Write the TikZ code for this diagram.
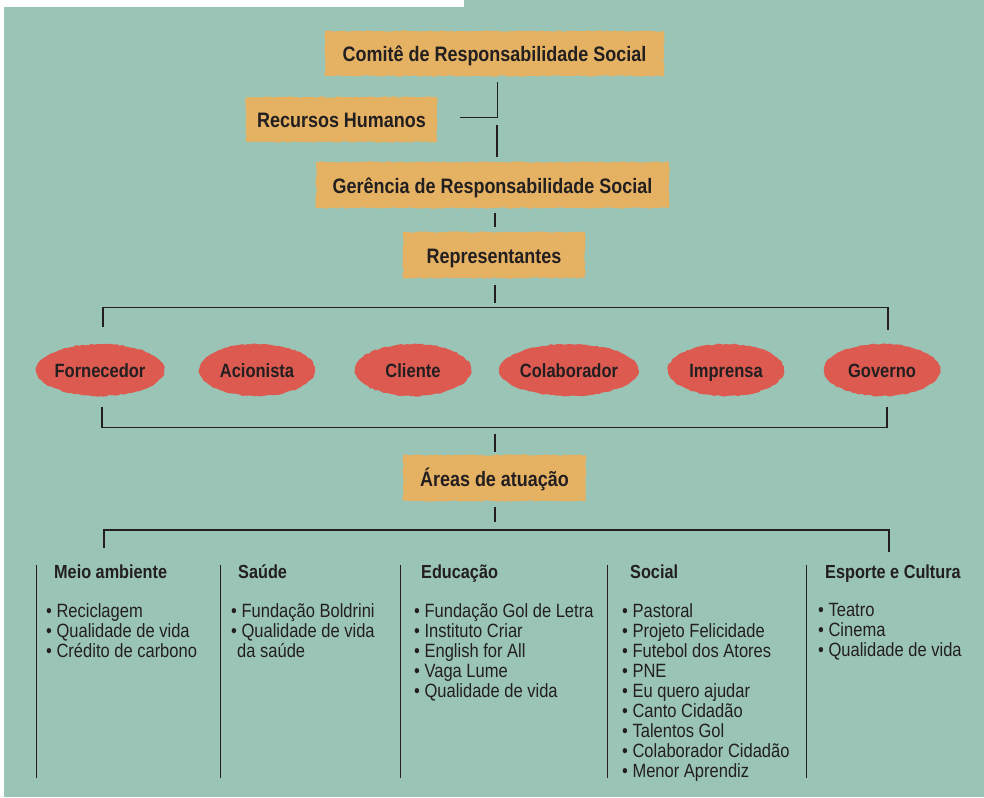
\documentclass[tikz,border=0pt]{standalone}
\usepackage{fontspec}
\setmainfont[FakeStretch=0.86]{Liberation Sans}
\usetikzlibrary{shapes.geometric,decorations.pathmorphing}
\definecolor{bgteal}{HTML}{9AC4B5}
\definecolor{boxor}{HTML}{E5B263}
\definecolor{ellred}{HTML}{DD5A50}
\definecolor{ink}{HTML}{231F20}
\begin{document}
\begin{tikzpicture}[x=1pt,y=-1pt,
  rough/.style={decorate,decoration={random steps,segment length=3pt,amplitude=0.7pt}},
  orbox/.style={rectangle,fill=boxor,text=ink,inner sep=0pt,minimum height=45pt,
    text height=16pt,text depth=0pt,
    font=\bfseries\fontsize{20.9}{22}\selectfont,rough},
  ellnode/.style={ellipse,fill=ellred,text=ink,inner sep=0pt,minimum width=116pt,minimum height=52pt,
    text height=15pt,text depth=0pt,
    font=\bfseries\fontsize{19.2}{21}\selectfont,rough},
  conn/.style={draw=ink,line width=1.1pt},
  colline/.style={draw=ink,line width=0.9pt},
  header/.style={anchor=base west,inner sep=0pt,text=ink,font=\bfseries\fontsize{18.9}{20}\selectfont},
  items/.style={anchor=north west,inner sep=0pt,text=ink,align=left,font=\fontsize{19.2}{20}\selectfont}
]
\pgfmathsetseed{7}
\useasboundingbox (0,0) rectangle (984,797);
\fill[bgteal] (4,7) rectangle (984,797);
\fill[bgteal] (464,0) rectangle (984,8);

% boxes
\node[orbox,minimum width=339pt] (comite) at (494.5,53.5) {Comitê de Responsabilidade Social};
\node[orbox,minimum width=191pt] (rh) at (341.5,119.5) {Recursos Humanos};
\node[orbox,minimum width=353pt,minimum height=46pt] (ger) at (492.5,185) {Gerência de Responsabilidade Social};
\node[orbox,minimum width=182pt,minimum height=46pt] (rep) at (494,255) {Representantes};
\node[orbox,minimum width=183pt,minimum height=46pt] (areas) at (494.5,478) {Áreas de atuação};

% ellipses
\node[ellnode] (forn) at (100,370) {Fornecedor};
\node[ellnode] (acio) at (257,370) {Acionista};
\node[ellnode] (cli) at (413,370) {Cliente};
\node[ellnode] (colab) at (569,370) {Colaborador};
\node[ellnode] (impr) at (726,370) {Imprensa};
\node[ellnode] (gov) at (882,370) {Governo};

% connectors
\draw[conn] ([xshift=3pt,yshift=-6pt]comite.south) |- ([xshift=23pt,yshift=2pt]rh.east);
\draw[conn] ([xshift=4.5pt,yshift=37pt]ger.north) -- ([xshift=4.5pt,yshift=5pt]ger.north);
\draw[conn] ([xshift=2.5pt,yshift=-5pt]ger.south) -- ([xshift=1pt,yshift=5pt]rep.north);
\draw[conn] ([xshift=1pt,yshift=-7pt]rep.south) -- ([xshift=1pt,yshift=-25pt]rep.south);
\draw[conn] ([xshift=3pt,yshift=17pt]forn.north) |- ([xshift=6pt,yshift=36pt]gov.north) -- ([xshift=6pt,yshift=14pt]gov.north);
\draw[conn] ([xshift=2pt,yshift=-11pt]forn.south) -- ([xshift=2pt,yshift=-31pt]forn.south)
  -- ([xshift=5pt,yshift=-31pt]gov.south) -- ([xshift=5pt,yshift=-11pt]gov.south);
\draw[conn] ([xshift=0.5pt,yshift=21pt]areas.north) -- ([xshift=0.5pt,yshift=3pt]areas.north);
\draw[conn] ([xshift=0.5pt,yshift=-6pt]areas.south) -- ([xshift=0.5pt,yshift=-21pt]areas.south);
\coordinate (bl) at (104,548);
\coordinate (br) at (889,552);
\draw[conn] (bl) |- (br |- 0,530) -- (br);

% column separators
\foreach \cx/\nm in {36/s1,220/s2,400/s3,607/s4,806/s5}{
  \coordinate (\nm t) at (\cx,565);
  \coordinate (\nm b) at (\cx,778);
  \draw[colline] (\nm t) -- (\nm b);
}

% headers
\node[header] (meio) at (54,578) {Meio ambiente};
\node[header] (saude) at (238,578) {Saúde};
\node[header] (educ) at (421,578) {Educação};
\node[header] (social) at (630,578) {Social};
\node[header] (esporte) at (825,578) {Esporte e Cultura};

% lists
\node[items] (l1) at (46,603.5) {• Reciclagem\\• Qualidade de vida\\• Crédito de carbono};
\node[items] (l2) at (231,603.5) {• Fundação Boldrini\\• Qualidade de vida\\\hspace{6pt}da saúde};
\node[items] (l3) at (414,603.5) {• Fundação Gol de Letra\\• Instituto Criar\\• English for All\\• Vaga Lume\\• Qualidade de vida};
\node[items] (l4) at (622,603.5) {• Pastoral\\• Projeto Felicidade\\• Futebol dos Atores\\• PNE\\• Eu quero ajudar\\• Canto Cidadão\\• Talentos Gol\\• Colaborador Cidadão\\• Menor Aprendiz};
\node[items] (l5) at (818,603.5) {• Teatro\\• Cinema\\• Qualidade de vida};
\end{tikzpicture}
\end{document}
